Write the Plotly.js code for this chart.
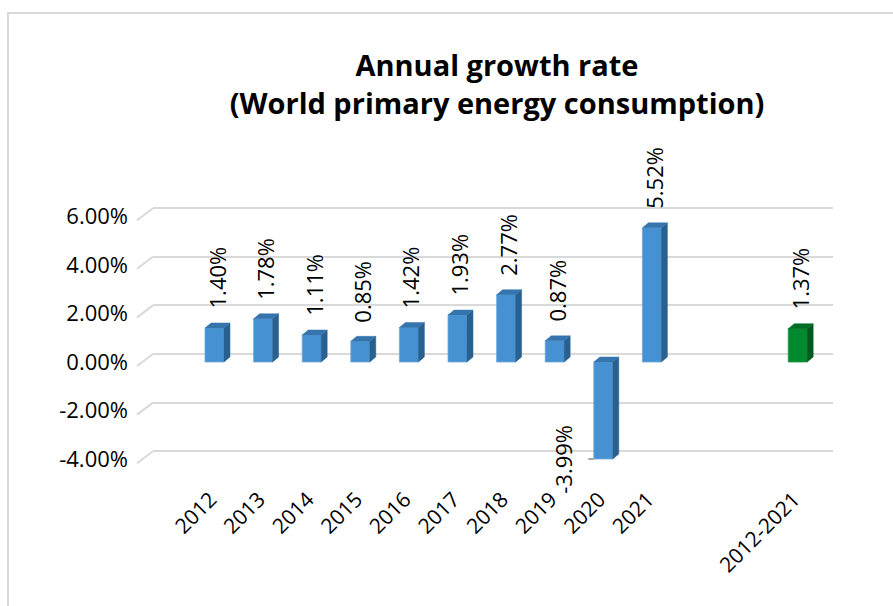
<!DOCTYPE html>
<html>
<head>
<meta charset="utf-8">
<script src="https://cdn.plot.ly/plotly-3.0.1.min.js"></script>
<style>
  html, body { margin: 0; padding: 0; background: #ffffff; overflow: hidden; }
  #frame { position: absolute; left: 7px; top: 12px; width: 1200px; height: 900px; border: 2px solid #d9d9d9; }
  #chart { position: absolute; left: 0; top: 0; width: 893px; height: 606px; }
</style>
</head>
<body>
<div id="frame"></div>
<div id="chart"></div>
<script>
// Annual growth of world primary energy consumption, in percent
const years = ['2012', '2013', '2014', '2015', '2016', '2017', '2018', '2019', '2020', '2021'];
const yearGrowth = [1.40, 1.78, 1.11, 0.85, 1.42, 1.93, 2.77, 0.87, -3.99, 5.52];
const averageLabel = ['2012-2021'];
const averageGrowth = [1.37];
const yTickValues = [-4, -2, 0, 2, 4, 6];
const blankSlots = 2;

// ---- pseudo-3D geometry (pixels) ----
const W = 893, H = 606;
const PX_PCT = 24.3;          // pixels per percentage point
const PX_SLOT = 48.6;         // pixels per category slot
const FRONT_X0 = 214.5;       // centre of the first slot on the front plane
const FRONT_Y0 = 362;         // zero line on the front plane
const DEPTH_X = 10, DEPTH_Y = 8;      // back wall offset from the bars' front plane
const EDGE_X = 16, EDGE_Y = 12;       // slanted left edge of the gridlines
const WALL_X0 = 153, WALL_X1 = 833;   // extent of the back-wall gridlines
const PLOT_TOP = 185, PLOT_BOTTOM = 472;
const BAR_W = 0.39;                   // bar width in slots
const BAR_DX = 6 / PX_SLOT, BAR_DY = 5 / PX_PCT; // bar depth in data units

const marginL = WALL_X0 - DEPTH_X;
const marginR = W - WALL_X1;
const plotW = W - marginL - marginR;
const plotH = PLOT_BOTTOM - PLOT_TOP;
const xMin = (marginL - FRONT_X0) / PX_SLOT;
const xMax = xMin + (plotW - DEPTH_X) / PX_SLOT;
const yMax = (FRONT_Y0 - (PLOT_TOP + DEPTH_Y)) / PX_PCT;
const yMin = yMax - (plotH - DEPTH_Y) / PX_PCT;

// slot positions
const yearSlots = years.map((_, i) => i);
const averageSlots = averageLabel.map((_, i) => years.length + blankSlots + i);
const allSlots = yearSlots.concat(averageSlots);
const allLabels = years.concat(averageLabel);

function sideFaces(slots, values) {
  const xs = [], ys = [];
  slots.forEach((c, i) => {
    const lo = Math.min(values[i], 0), hi = Math.max(values[i], 0);
    const r = c + BAR_W / 2;
    xs.push(r, r + BAR_DX, r + BAR_DX, r, r, null);
    ys.push(lo, lo + BAR_DY, hi + BAR_DY, hi, lo, null);
  });
  return { xs, ys };
}
function topFaces(slots, values) {
  const xs = [], ys = [];
  slots.forEach((c, i) => {
    const hi = Math.max(values[i], 0);
    const l = c - BAR_W / 2, r = c + BAR_W / 2;
    xs.push(l, l + BAR_DX, r + BAR_DX, r, l, null);
    ys.push(hi, hi + BAR_DY, hi + BAR_DY, hi, hi, null);
  });
  return { xs, ys };
}
function faceTrace(face, color) {
  return {
    type: 'scatter', mode: 'lines', x: face.xs, y: face.ys,
    fill: 'toself', fillcolor: color, line: { color: color, width: 0.5 },
    xaxis: 'x2', yaxis: 'y2', hoverinfo: 'skip', showlegend: false
  };
}

const BLUE = { front: '#4691d1', side: '#28608f', top: '#3574ad' };
const GREEN = { front: '#00892e', side: '#005a1e', top: '#006d25' };

const traces = [
  // back wall subplot (gridlines only)
  { type: 'scatter', x: [xMin], y: [0], xaxis: 'x', yaxis: 'y', mode: 'markers',
    marker: { opacity: 0 }, showlegend: false, hoverinfo: 'skip' },
  // bars on the front plane
  {
    type: 'bar', x: yearSlots, y: yearGrowth, width: BAR_W,
    marker: { color: BLUE.front, line: { color: '#6ca7dc', width: 0.8 } },
    xaxis: 'x2', yaxis: 'y2', showlegend: false, hoverinfo: 'skip'
  },
  {
    type: 'bar', x: averageSlots, y: averageGrowth, width: BAR_W,
    marker: { color: GREEN.front, line: { color: '#1f9c47', width: 0.8 } },
    xaxis: 'x2', yaxis: 'y2', showlegend: false, hoverinfo: 'skip'
  },
  faceTrace(sideFaces(yearSlots, yearGrowth), BLUE.side),
  faceTrace(topFaces(yearSlots, yearGrowth), BLUE.top),
  faceTrace(sideFaces(averageSlots, averageGrowth), GREEN.side),
  faceTrace(topFaces(averageSlots, averageGrowth), GREEN.top)
];

const fmtPct = v => v.toFixed(2) + '%';

// value labels
const annotations = [];
const labelValues = yearGrowth.concat(averageGrowth);
allSlots.forEach((c, i) => {
  const v = labelValues[i];
  if (v >= 0) {
    annotations.push({
      x: c, y: v, xref: 'x2', yref: 'y2', text: fmtPct(v), showarrow: false,
      textangle: -90, xanchor: 'center', yanchor: 'bottom', xshift: 2, yshift: 17,
      font: { family: 'Open Sans', size: 22, color: '#000000' }
    });
  } else {
    annotations.push({
      x: c - BAR_W / 2, y: v, xref: 'x2', yref: 'y2', text: fmtPct(v), showarrow: true,
      arrowhead: 0, arrowwidth: 2, arrowcolor: '#a6a6a6', ax: -31, ay: 0,
      startstandoff: 9, standoff: 0,
      textangle: -90, font: { family: 'Open Sans', size: 22, color: '#000000' }
    });
  }
});

// slanted left edge of each gridline on the side wall
const wallLeft = (WALL_X0 - marginL) / plotW;
const edgeLeft = (WALL_X0 - EDGE_X - marginL) / plotW;
const shapes = yTickValues.map(t => ({
  type: 'line', layer: 'below',
  xref: 'paper', x0: edgeLeft, x1: wallLeft,
  yref: 'y', y0: t - EDGE_Y / PX_PCT, y1: t,
  line: { color: '#d9d9d9', width: 2 }
}));

const layout = {
  width: W, height: H,
  margin: { l: marginL, r: marginR, t: PLOT_TOP, b: H - PLOT_BOTTOM, pad: 0 },
  paper_bgcolor: 'rgba(0,0,0,0)', plot_bgcolor: 'rgba(0,0,0,0)',
  font: { family: 'Open Sans', size: 22, color: '#000000' },
  title: {
    text: 'Annual growth rate<br>(World primary energy consumption)',
    font: { family: 'Open Sans', size: 29, color: '#000000', weight: 'bold' },
    x: 497 / W, xref: 'container', xanchor: 'center',
    y: 1 - 76 / H, yref: 'container', yanchor: 'top'
  },
  bargap: 0,
  showlegend: false,
  // back wall: gridlines
  xaxis: {
    domain: [DEPTH_X / plotW, 1], range: [xMin, xMax], anchor: 'y',
    showticklabels: false, ticks: '', showgrid: false, zeroline: false, showline: false
  },
  yaxis: {
    domain: [DEPTH_Y / plotH, 1], range: [yMin, yMax], anchor: 'x',
    tickmode: 'array', tickvals: yTickValues, showticklabels: false, ticks: '',
    showgrid: true, gridcolor: '#d9d9d9', gridwidth: 2,
    zeroline: false, showline: false
  },
  // front plane: bars, value labels, tick labels
  xaxis2: {
    domain: [0, (plotW - DEPTH_X) / plotW], range: [xMin, xMax], anchor: 'y2',
    tickmode: 'array', tickvals: allSlots, ticktext: allLabels,
    tickangle: -45, ticks: '', ticklabelstandoff: 10, ticklabelshift: -4,
    showgrid: false, zeroline: false, showline: false,
    tickfont: { family: 'Open Sans', size: 21, color: '#000000' }
  },
  yaxis2: {
    domain: [0, (plotH - DEPTH_Y) / plotH], range: [yMin, yMax], anchor: 'x2',
    tickmode: 'array', tickvals: yTickValues, ticktext: yTickValues.map(fmtPct),
    ticks: '', ticklabelstandoff: 14,
    showgrid: false, zeroline: false, showline: false,
    tickfont: { family: 'Open Sans', size: 22, color: '#000000' }
  },
  annotations: annotations,
  shapes: shapes
};

Plotly.newPlot('chart', traces, layout, { displayModeBar: false, staticPlot: true });
</script>
</body>
</html>
